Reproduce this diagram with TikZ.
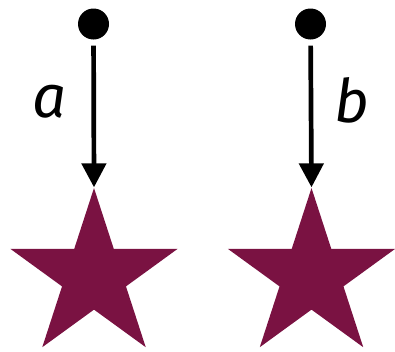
\documentclass[tikz,border=0pt]{standalone}
\usepackage{fontspec}
\setmainfont{Fira Sans}
\usetikzlibrary{arrows.meta,positioning,shapes.geometric}
\definecolor{wine}{RGB}{122,18,66}

\begin{document}
\begin{tikzpicture}[x=1pt,y=1pt,
      dot/.style={circle,fill=black,inner sep=0pt,minimum size=31pt},
      goal/.style={star,star points=5,star point ratio=2.618,fill=wine,
                   inner sep=0pt,minimum size=176pt},
      ar/.style={-{Triangle[length=24pt,width=24pt]},line width=4.7pt,shorten <=6pt},
      lbl/.style={font=\fontsize{60}{60}\selectfont\itshape,inner sep=0pt}]
      \useasboundingbox (0,0) rectangle (395,-351);
      \node[dot] (srca) at (93.5,-24) {};
      \node[dot] (srcb) at (310.5,-24) {};
      \node[goal] (stara) at (94,-276) {};
      \node[goal] (starb) at (311.5,-276) {};
      \node[lbl] (la) at (50,-102) {a};
      \node[lbl] (lb) at (352,-100) {b};
      \draw[ar] (srca) -- (stara.north); \draw[ar] (srcb) -- (starb.north);
    \end{tikzpicture}
\end{document}
